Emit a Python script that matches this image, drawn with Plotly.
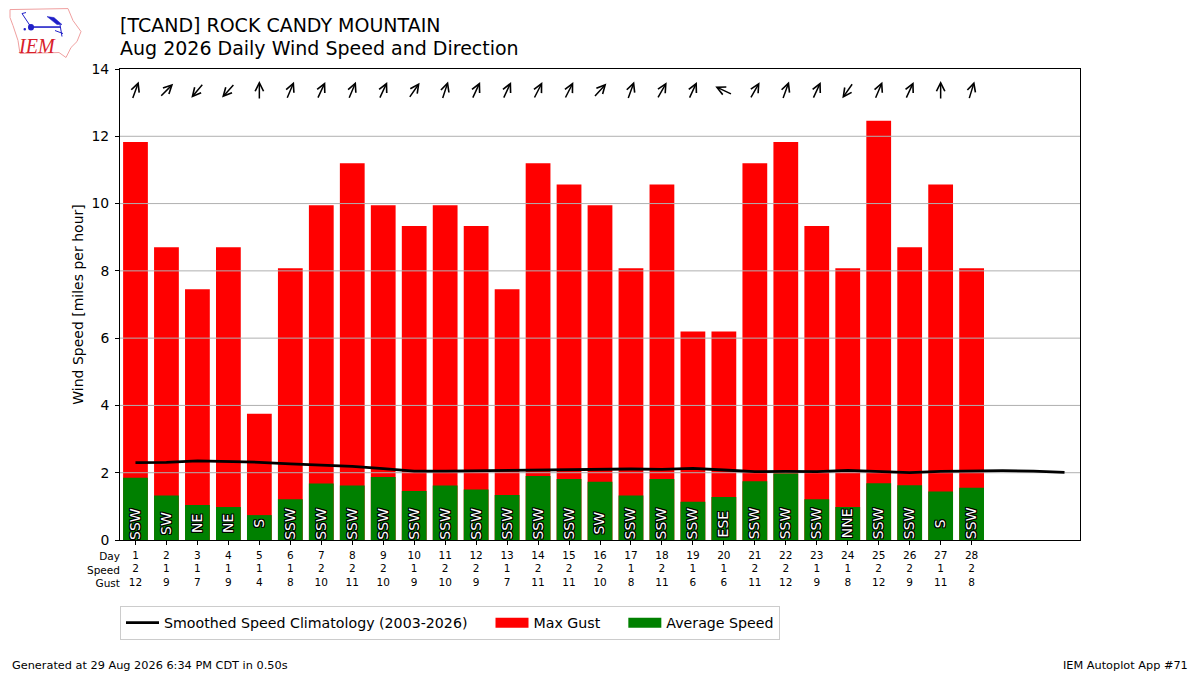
"""
Daily wind speed and direction chart for one station, IEM Autoplot style.
"""

import math
import plotly.graph_objects as go

# ── data ──────────────────────────────────────────────────────────────────────

DAYS = list(range(1, 29))
CLIMO_DAYS = list(range(1, 32))

MAX_GUST = [11.83, 8.7, 7.45, 8.7, 3.75, 8.08, 9.95, 11.2, 9.95, 9.33,
            9.95, 9.33, 7.45, 11.2, 10.57, 9.95, 8.08, 10.57, 6.2, 6.2,
            11.2, 11.83, 9.33, 8.08, 12.46, 8.7, 10.57, 8.08]
AVG_SPEED = [1.85, 1.32, 1.04, 0.98, 0.74, 1.21, 1.68, 1.62, 1.87, 1.46,
             1.62, 1.5, 1.34, 1.9, 1.81, 1.73, 1.32, 1.81, 1.14, 1.28,
             1.75, 1.98, 1.21, 0.98, 1.69, 1.63, 1.44, 1.55]
CLIMO_SPEED = [2.3, 2.31, 2.35, 2.34, 2.31, 2.26, 2.23, 2.19, 2.12, 2.05,
               2.05, 2.06, 2.06, 2.07, 2.08, 2.11, 2.11, 2.1, 2.13, 2.08,
               2.03, 2.04, 2.03, 2.07, 2.03, 2.0, 2.04, 2.06, 2.06, 2.05, 2.01]

DIR_LABELS = ["SSW", "SW", "NE", "NE", "S", "SSW", "SSW", "SSW", "SSW", "SSW",
              "SSW", "SSW", "SSW", "SSW", "SSW", "SW", "SSW", "SSW", "SSW", "ESE",
              "SSW", "SSW", "SSW", "NNE", "SSW", "SSW", "S", "SSW"]
# direction the wind comes from, degrees
DIR_DEGREES = [200, 225, 40, 42, 180, 203, 205, 203, 205, 215,
               198, 205, 205, 207, 207, 222, 200, 210, 205, 115,
               210, 200, 205, 35, 203, 205, 180, 197]

SPEED_LABELS = [2, 1, 1, 1, 1, 1, 2, 2, 2, 1,
                2, 2, 1, 2, 2, 2, 1, 2, 1, 1,
                2, 2, 1, 1, 2, 2, 1, 2]
GUST_LABELS = [12, 9, 7, 9, 4, 8, 10, 11, 10, 9,
               10, 9, 7, 11, 11, 10, 8, 11, 6, 6,
               11, 12, 9, 8, 12, 9, 11, 8]

GRID_VALUES = [2, 4, 6, 8, 10, 12]

TITLE_1 = "[TCAND] ROCK CANDY MOUNTAIN"
TITLE_2 = "Aug 2026 Daily Wind Speed and Direction"
FOOTER_LEFT = "Generated at 29 Aug 2026 6:34 PM CDT in 0.50s"
FOOTER_RIGHT = "IEM Autoplot App #71"

# legend text is padded with no-break spaces to space the entries out
NBSP = "\u00a0"
LEGEND_CLIMO = "Smoothed Speed Climatology (2003-2026)" + NBSP * 4
LEGEND_GUST = "Max Gust" + NBSP * 4
LEGEND_AVG = "Average Speed"

# ── layout config ─────────────────────────────────────────────────────────────

WIDTH, HEIGHT = 1200, 675
LEFT, RIGHT, TOP, BOTTOM = 120, 1080, 68.5, 540
FONT = "DejaVu Sans"
ARROW_Y = 13.36
ARROW_LEN = 19
LABEL_Y = 0.49
RED = "#ff0000"
GREEN = "#008000"
BLUE = "#2020c8"


def px_x(x):
    return (x - LEFT) / (RIGHT - LEFT)


def px_y(y):
    return (BOTTOM - y) / (BOTTOM - TOP)


def logo_path(points, close=False):
    parts = [f"{'M' if i == 0 else 'L'} {px_x(x):.5f} {px_y(y):.5f}" for i, (x, y) in enumerate(points)]
    return " ".join(parts) + (" Z" if close else "")


def paper_text(x, y, text, size, anchor="left", color="black", **kwargs):
    return dict(x=px_x(x), y=px_y(y), xref="paper", yref="paper", text=text, showarrow=False,
                xanchor=anchor, yanchor="middle", font=dict(family=FONT, size=size, color=color), **kwargs)


# ── traces ────────────────────────────────────────────────────────────────────

fig = go.Figure()
fig.add_trace(go.Bar(x=DAYS, y=MAX_GUST, width=0.8, name="Max Gust", marker_color=RED,
                     marker_line_width=0, showlegend=False))
fig.add_trace(go.Bar(x=DAYS, y=AVG_SPEED, width=0.8, name="Average Speed", marker_color=GREEN,
                     marker_line_width=0, showlegend=False))

# matplotlib draws the grid over the bars, but under the climatology line
grid_x, grid_y = [], []
for value in GRID_VALUES:
    grid_x += [0.5, 31.5, None]
    grid_y += [value, value, None]
fig.add_trace(go.Scatter(x=grid_x, y=grid_y, mode="lines", showlegend=False, hoverinfo="skip",
                         line=dict(color="#b0b0b0", width=1)))

fig.add_trace(go.Scatter(x=CLIMO_DAYS, y=CLIMO_SPEED, mode="lines", name=LEGEND_CLIMO,
                         line=dict(color="black", width=2.8)))

# bar swatches in the legend are small squares, thick legend-only lines look like the original patches
fig.add_trace(go.Scatter(x=[None], y=[None], mode="lines", name=LEGEND_GUST, line=dict(color=RED, width=10)))
fig.add_trace(go.Scatter(x=[None], y=[None], mode="lines", name=LEGEND_AVG, line=dict(color=GREEN, width=10)))

# ── annotations ───────────────────────────────────────────────────────────────

annotations = []

for day, deg in zip(DAYS, DIR_DEGREES):
    to_rad = math.radians(deg + 180)
    dx = ARROW_LEN * math.sin(to_rad)
    dy = ARROW_LEN * math.cos(to_rad)
    annotations.append(dict(x=day, y=ARROW_Y, xref="x", yref="y", text="", showarrow=True,
                            xshift=dx / 2, yshift=dy / 2, ax=-dx, ay=dy, axref="pixel", ayref="pixel",
                            arrowhead=5, arrowsize=1.1, arrowwidth=1.5, arrowcolor="black", standoff=0))

for day, label in zip(DAYS, DIR_LABELS):
    annotations.append(dict(x=day, y=LABEL_Y, xref="x", yref="y", text=label, showarrow=False, textangle=-90,
                            xanchor="center", yanchor="middle", xshift=-1,
                            font=dict(family=FONT, size=14, color="white",
                                      shadow="1px 1px 0 #000, -1px 1px 0 #000, 1px -1px 0 #000, -1px -1px 0 #000, "
                                             "1px 0 0 #000, -1px 0 0 #000, 0 1px 0 #000, 0 -1px 0 #000")))

annotations.append(dict(x=px_x(121), y=px_y(549), xref="paper", yref="paper", text="Day<br>Speed<br>Gust",
                        showarrow=False, xanchor="right", yanchor="top", align="right", borderpad=0,
                        font=dict(family=FONT, size=10.5, color="black")))

annotations.append(paper_text(118, 24, TITLE_1, 19))
annotations.append(paper_text(118, 47, TITLE_2, 19))
annotations.append(paper_text(10, 666, FOOTER_LEFT, 11.3))
annotations.append(paper_text(1190, 666, FOOTER_RIGHT, 11.3, anchor="right"))
annotations.append(dict(x=px_x(37), y=px_y(45), xref="paper", yref="paper", text="<i>IEM</i>", showarrow=False,
                        xanchor="center", yanchor="middle",
                        font=dict(family="Liberation Serif", size=20, color="#d8202a")))

# ── logo drawn with shapes ────────────────────────────────────────────────────

IOWA_OUTLINE = [(10, 9), (68, 8), (73, 20), (81, 31), (77, 41), (71, 47), (66, 57), (59, 52),
                (20, 53), (18, 40), (13, 25), (10, 17)]
shapes = [
    dict(type="path", xref="paper", yref="paper", path=logo_path(IOWA_OUTLINE, close=True),
         line=dict(color="#f0a0a0", width=1)),
    dict(type="path", xref="paper", yref="paper", path=logo_path([(31, 26.5), (60, 26.5)]), line=dict(color=BLUE, width=1.6)),
    dict(type="path", xref="paper", yref="paper", path=logo_path([(31, 26.5), (22, 13), (26, 12)]),
         line=dict(color=BLUE, width=1)),
    dict(type="path", xref="paper", yref="paper", path=logo_path([(47, 16), (54, 17), (62, 24), (57, 24)], close=True),
         fillcolor=BLUE, line=dict(color=BLUE, width=0.5)),
    dict(type="path", xref="paper", yref="paper", path=logo_path([(60, 24), (62, 36)]), line=dict(color=BLUE, width=1)),
    dict(type="path", xref="paper", yref="paper", path=logo_path([(55, 30), (63, 33)]), line=dict(color=BLUE, width=1)),
    dict(type="circle", xref="paper", yref="paper", x0=px_x(28), y0=px_y(30), x1=px_x(34), y1=px_y(23.5),
         fillcolor=BLUE, line=dict(color=BLUE, width=0)),
    dict(type="circle", xref="paper", yref="paper", x0=px_x(23.5), y0=px_y(30), x1=px_x(26), y1=px_y(27.5),
         fillcolor=BLUE, line=dict(color=BLUE, width=0)),
]

# ── layout ────────────────────────────────────────────────────────────────────

axis_style = dict(showline=True, linecolor="black", linewidth=1, mirror=True, ticks="outside",
                  ticklen=4, tickcolor="black", tickwidth=1, zeroline=False, showgrid=False)

fig.update_layout(
    width=WIDTH,
    height=HEIGHT,
    margin=dict(l=LEFT, r=WIDTH - RIGHT, t=TOP, b=HEIGHT - BOTTOM, pad=0),
    barmode="overlay",
    plot_bgcolor="white",
    paper_bgcolor="white",
    font=dict(family=FONT, color="black"),
    xaxis=dict(range=[0.5, 31.5], tickvals=DAYS,
               ticktext=[f"{d}<br>{s}<br>{g}" for d, s, g in zip(DAYS, SPEED_LABELS, GUST_LABELS)],
               tickangle=0, ticklabelstandoff=1, tickfont=dict(family=FONT, size=10.5, color="black"), **axis_style),
    yaxis=dict(range=[0, 14], tickvals=list(range(0, 15, 2)), ticklabelstandoff=3,
               tickfont=dict(family=FONT, size=13.9, color="black"),
               title=dict(text="Wind Speed [miles per hour]", font=dict(family=FONT, size=14, color="black"), standoff=4),
               **axis_style),
    legend=dict(orientation="h", x=0, y=px_y(606), xanchor="left", yanchor="top", bgcolor="white",
                bordercolor="#cccccc", borderwidth=1, itemwidth=33, font=dict(family=FONT, size=14.2, color="black")),
    annotations=annotations,
    shapes=shapes,
)

fig.write_html("out.html", config={"displayModeBar": False}, post_script="document.body.style.margin='0';")
